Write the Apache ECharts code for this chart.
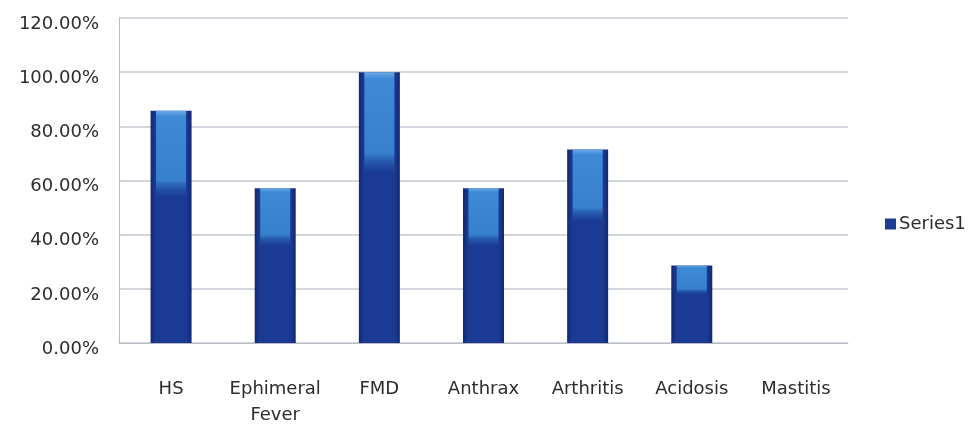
<!DOCTYPE html>
<html><head><meta charset="utf-8">
<script src="https://cdn.jsdelivr.net/npm/echarts@6/dist/echarts.min.js"></script>
<style>html,body{margin:0;padding:0;background:#fff}#c{width:980px;height:428px}</style>
</head><body><div id="c"></div>
<script>
const categories = ['HS', 'Ephimeral\nFever', 'FMD', 'Anthrax', 'Arthritis', 'Acidosis', 'Mastitis'];
const series1 = [85.71, 57.14, 100, 57.14, 71.43, 28.57, 0];
const yTicks = { min: 0, max: 120, interval: 20 };

const chart = echarts.init(document.getElementById('c'), null, { renderer: 'canvas' });
const labelFont = { fontFamily: '"DejaVu Sans", sans-serif', color: '#2c2c2c' };
chart.setOption({
  animation: false,
  backgroundColor: '#ffffff',
  grid: { left: 119, right: 132, top: 18, bottom: 84, containLabel: false },
  legend: {
    data: [{ name: 'Series1', itemStyle: { color: '#1d3c96' } }],
    left: 880, top: 210, orient: 'vertical', icon: 'rect',
    itemWidth: 11, itemHeight: 11, itemGap: 5,
    textStyle: Object.assign({ fontSize: 18, padding: [0, 0, 0, -2] }, labelFont)
  },
  xAxis: [{
    type: 'category', data: categories,
    axisLine: { show: true, lineStyle: { color: '#b7bcc6', width: 1 } },
    axisTick: { show: false },
    axisLabel: Object.assign({ fontSize: 18, margin: 33, lineHeight: 26, interval: 0 }, labelFont),
    splitLine: { show: false }
  }, {
    type: 'category', data: categories, show: false, position: 'bottom'
  }],
  yAxis: {
    type: 'value', min: yTicks.min, max: yTicks.max, interval: yTicks.interval,
    axisLine: { show: true, lineStyle: { color: '#b7bcc6', width: 1 } },
    axisTick: { show: false },
    axisLabel: Object.assign({ fontSize: 18, margin: 20, verticalAlign: 'top', lineHeight: 12,
      formatter: v => v.toFixed(2) + '%' }, labelFont),
    splitLine: { lineStyle: { color: '#c5cad3', width: 1.5 } }
  },
  series: [{
    name: 'Series1', type: 'bar', xAxisIndex: 0, data: series1, barWidth: 41,
    itemStyle: {
      color: new echarts.graphic.LinearGradient(0, 0, 1, 0, [
        { offset: 0, color: '#122870' }, { offset: 0.12, color: '#1b3a94' },
        { offset: 0.88, color: '#1b3a94' }, { offset: 1, color: '#122870' }
      ])
    }
  }, {
    name: 'highlight', type: 'bar', xAxisIndex: 1, data: series1, barWidth: 30,
    silent: true, legendHoverLink: false,
    itemStyle: {
      color: new echarts.graphic.LinearGradient(0, 0, 0, 1, [
        { offset: 0, color: 'rgba(110,170,230,1)' }, { offset: 0.025, color: 'rgba(62,138,214,1)' },
        { offset: 0.3, color: 'rgba(55,128,205,1)' }, { offset: 0.34, color: 'rgba(40,95,175,0.6)' },
        { offset: 0.37, color: 'rgba(40,95,175,0)' }, { offset: 1, color: 'rgba(40,95,175,0)' }
      ])
    }
  }]
});
</script></body></html>
